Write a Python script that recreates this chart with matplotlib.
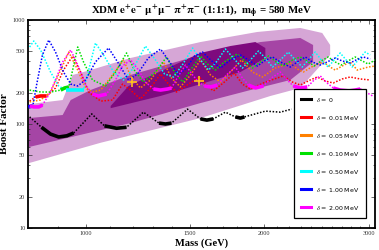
"""
XDM boost factor vs mass, e+e- mu+mu- pi+pi- (1:1:1), m_phi = 580 MeV.
Shaded regions: allowed boost factors; curves: Sommerfeld enhancement for several delta.
"""
import matplotlib
matplotlib.use("Agg")
import matplotlib.pyplot as plt
import numpy as np
from matplotlib.ticker import FixedLocator, NullFormatter

OUT_PNG = "out.png"

# ---- allowed regions (outer / middle / inner), mass in GeV ----
light_up_m = [802, 915, 951, 1019, 1190, 1561, 1945, 2298, 2502, 2580]
light_up_bf = [155, 170, 296, 330, 431, 614, 767, 838, 750, 575]
light_lo_m = [802, 1060, 1561, 2047, 2298, 2580]
light_lo_bf = [42, 66, 114, 186, 222, 461]

mid_up_m = [802, 915, 944, 1019, 1190, 1561, 1969, 2298, 2415]
mid_up_bf = [114, 122, 170, 212, 296, 461, 614, 672, 575]
mid_lo_m = [802, 1190, 1561, 1894, 2211, 2415]
mid_lo_bf = [60, 102, 159, 212, 265, 395]

dark_up_m = [1102, 1181, 1561, 1753, 1931, 2007]
dark_up_bf = [149, 232, 482, 562, 614, 538]
dark_lo_m = [1102, 1337, 1561, 1822, 2007]
dark_lo_bf = [142, 186, 242, 316, 431]

# ---- Sommerfeld curves ----
black_m = [805, 843, 873, 901, 930, 955, 1024, 1076, 1127, 1172, 1251, 1329, 1363,
           1395, 1484, 1561, 1600, 1641, 1719, 1787, 1822, 1851, 2007, 2127, 2222]
black_bf = [117, 93, 80, 75, 77, 82, 125, 96, 91, 93, 130, 102, 100,
            102, 139, 112, 109, 112, 130, 117, 114, 117, 133, 130, 139]

red_m = [805, 824, 840, 860, 890, 918, 951, 981, 1012, 1060, 1110, 1154, 1190, 1237,
         1286, 1337, 1379, 1422, 1490, 1554, 1604, 1641, 1712, 1780, 1836, 1894,
         2007, 2152, 2230, 2298, 2388, 2454, 2531, 2611, 2703, 2788, 2899, 3013]
red_bf = [166, 182, 186, 186, 222, 330, 451, 316, 203, 166, 170, 242, 212, 174,
          222, 303, 242, 203, 242, 283, 232, 208, 253, 309, 242, 217,
          253, 290, 253, 237, 265, 283, 259, 248, 271, 283, 271, 265]

orange_m = [805, 840, 873, 908, 937, 970, 1000, 1027, 1060, 1110, 1158, 1195, 1237,
            1286, 1353, 1395, 1444, 1502, 1561, 1623, 1687, 1766, 1829, 1909, 1984,
            2086, 2211, 2271, 2325, 2416, 2512, 2580, 2631, 2703, 2788, 2866, 2990, 3072]
orange_bf = [163, 170, 203, 330, 492, 330, 222, 203, 212, 296, 413, 277, 222,
             265, 395, 277, 227, 296, 413, 296, 253, 330, 413, 316, 283,
             345, 386, 338, 316, 361, 395, 353, 330, 361, 395, 330, 353, 361]

green_m = [805, 840, 873, 908, 922, 937, 951, 970, 992, 1027, 1080, 1123, 1172, 1208,
           1251, 1311, 1369, 1411, 1458, 1502, 1561, 1604, 1654, 1712, 1800, 1858,
           1909, 1969, 2032, 2094, 2152, 2230, 2298, 2370, 2425, 2492, 2560, 2631,
           2692, 2766, 2843, 2921, 2990, 3072]
green_bf = [212, 203, 203, 212, 222, 227, 330, 550, 395, 265, 232, 316, 482, 330,
            253, 316, 441, 316, 253, 330, 451, 377, 330, 395, 471, 395,
            345, 395, 451, 395, 361, 413, 441, 395, 361, 404, 441, 395,
            369, 404, 441, 404, 377, 413]

cyan_m = [805, 818, 840, 873, 901, 926, 958, 992, 1012, 1039, 1072, 1115, 1158, 1204,
          1261, 1311, 1358, 1406, 1458, 1514, 1561, 1610, 1660, 1719, 1773, 1836,
          1894, 1954, 2007, 2063, 2127, 2193, 2254, 2316, 2370, 2435, 2492, 2560,
          2621, 2682, 2745, 2810, 2877, 2955, 3013]
cyan_bf = [550, 628, 515, 316, 232, 212, 212, 212, 330, 601, 461, 316, 265, 345,
           562, 413, 303, 283, 377, 538, 413, 330, 395, 526, 431, 345,
           413, 503, 431, 353, 413, 492, 413, 353, 413, 492, 413, 353,
           413, 482, 413, 353, 413, 492, 461]

blue_m = [801, 815, 827, 846, 867, 890, 918, 944, 970, 1000, 1039, 1093, 1132, 1181,
          1223, 1275, 1337, 1385, 1433, 1478, 1525, 1573, 1623, 1687, 1753, 1822,
          1880, 1946, 1999, 2063, 2127, 2211, 2271, 2343, 2407, 2483, 2550, 2631,
          2703, 2788, 2854, 2933, 3013]
blue_bf = [146, 149, 237, 461, 642, 492, 316, 242, 232, 265, 395, 538, 395, 265,
           303, 431, 526, 395, 296, 345, 451, 492, 413, 345, 413, 461,
           413, 361, 404, 441, 395, 353, 395, 441, 395, 369, 395, 431,
           404, 386, 413, 441, 422]

magenta_m = [805, 818, 834, 846, 867, 890, 915, 944, 970, 1000, 1027, 1051, 1085,
             1123, 1154, 1190, 1228, 1261, 1301, 1337, 1374, 1395, 1433, 1473, 1514,
             1549, 1585, 1623, 1667, 1726, 1787, 1836, 1880, 1931, 1992, 2055, 2127,
             2185, 2237, 2298, 2361, 2425, 2483, 2550, 2611, 2682, 2776, 2843, 2899,
             2944, 2979, 3042]
magenta_bf = [149, 146, 146, 152, 190, 265, 395, 515, 369, 237, 194, 186, 194,
              265, 361, 413, 330, 253, 217, 212, 217, 222, 290, 369, 296,
              253, 232, 227, 237, 296, 353, 277, 237, 222, 232, 277, 316,
              265, 232, 222, 227, 265, 290, 248, 222, 212, 208, 212, 217,
              212, 199, 186]

# solid (thick) pieces of each curve, as mass ranges
black_thick = [(843, 955), (1076, 1172), (1329, 1395), (1561, 1641), (1787, 1851)]
red_thick = [(824, 860)]
green_thick = [(908, 937)]
cyan_thick = [(926, 992)]
blue_thick = [(801, 815)]
magenta_thick = [(805, 846), (1027, 1085), (1301, 1395), (1585, 1667),
                 (1880, 1992), (2237, 2361), (2611, 2899)]
orange_thick = []

cross_m = [1195, 1549]
cross_bf = [253, 259]

labels = [r"$\delta$ = 0", r"$\delta$ = 0.01 MeV", r"$\delta$ = 0.05 MeV",
          r"$\delta$ = 0.10 MeV", r"$\delta$ = 0.50 MeV", r"$\delta$ = 1.00 MeV",
          r"$\delta$ = 2.00 MeV"]
colors = ["black", "#ff0000", "#ff8000", "#00e000", "#00ffff", "#0000ff", "#ff00ff"]

x_major = [1000, 1500, 2000, 3000]
x_minor = [900, 1100, 1200, 1300, 1400, 1600, 1700, 1800, 1900,
           2100, 2200, 2300, 2400, 2500, 2600, 2700, 2800, 2900]
y_major = [10, 20, 50, 100, 200, 500, 1000]
y_minor = [30, 40, 60, 70, 80, 90, 300, 400, 600, 700, 800, 900]


def region(ax, up_m, up_bf, lo_m, lo_bf, color):
    xs = list(up_m) + list(lo_m)[::-1]
    ys = list(up_bf) + list(lo_bf)[::-1]
    ax.fill(xs, ys, color=color, lw=0, zorder=1)


def curve(ax, m, bf, thick, color):
    m = np.asarray(m, float)
    bf = np.asarray(bf, float)
    ax.plot(m, bf, color=color, lw=1.1, ls=(0, (1, 1.1)), zorder=3)
    for a, b in thick:
        sel = (m >= a) & (m <= b)
        ax.plot(m[sel], bf[sel], color=color, lw=2.6, solid_capstyle="butt", zorder=4)


def main():
    plt.rcParams["font.family"] = ["Liberation Serif", "DejaVu Serif"]
    plt.rcParams["mathtext.fontset"] = "stix"

    fig = plt.figure(figsize=(3.79, 2.50), dpi=100)
    ax = fig.add_axes([0.0739, 0.088, 0.9156, 0.832])
    ax.set_xscale("log")
    ax.set_yscale("log")

    region(ax, light_up_m, light_up_bf, light_lo_m, light_lo_bf, "#d6a6d6")
    region(ax, mid_up_m, mid_up_bf, mid_lo_m, mid_lo_bf, "#a545a5")
    region(ax, dark_up_m, dark_up_bf, dark_lo_m, dark_lo_bf, "#7e0a7e")

    series = [
        (black_m, black_bf, black_thick),
        (red_m, red_bf, red_thick),
        (orange_m, orange_bf, orange_thick),
        (green_m, green_bf, green_thick),
        (cyan_m, cyan_bf, cyan_thick),
        (blue_m, blue_bf, blue_thick),
        (magenta_m, magenta_bf, magenta_thick),
    ]
    for (m, bf, thick), c in zip(series, colors):
        curve(ax, m, bf, thick, c)

    ax.plot(cross_m, cross_bf, ls="none", marker="+", ms=7, mew=1.2,
            color="#ffc020", zorder=5)

    handles = [plt.Line2D([], [], color=c, lw=2.2) for c in colors]
    leg = ax.legend(handles, labels, loc="lower right",
                    bbox_to_anchor=(0.983, 0.034), frameon=True, fancybox=False,
                    framealpha=1, edgecolor="black",
                    prop={"family": "DejaVu Sans", "size": 4.5},
                    labelspacing=1.6, handlelength=1.6, handletextpad=0.9,
                    borderpad=1.0)
    leg.get_frame().set_linewidth(0.9)
    leg.set_zorder(10)

    ax.set_xlim(800, 3070)
    ax.set_ylim(10, 1000)
    ax.xaxis.set_major_locator(FixedLocator(x_major))
    ax.xaxis.set_minor_locator(FixedLocator(x_minor))
    ax.yaxis.set_major_locator(FixedLocator(y_major))
    ax.yaxis.set_minor_locator(FixedLocator(y_minor))
    ax.set_xticklabels([str(v) for v in x_major])
    ax.set_yticklabels([str(v) for v in y_major])
    ax.xaxis.set_minor_formatter(NullFormatter())
    ax.yaxis.set_minor_formatter(NullFormatter())
    ax.tick_params(which="both", direction="in", top=True, right=True,
                   labelsize=4.5, pad=2, width=0.5, colors="#333333")
    ax.tick_params(which="major", length=3)
    ax.tick_params(which="minor", length=1.5)
    for s in ax.spines.values():
        s.set_linewidth(1.3)

    ax.set_title(r"XDM $\mathbf{e^{+}e^{-}}$ $\mathbf{\mu^{+}\mu^{-}}$ "
                 r"$\mathbf{\pi^{+}\pi^{-}}$ (1:1:1),  $\mathbf{m_{\phi}}$ = 580 MeV",
                 fontsize=7.8, fontweight="bold", pad=3)
    ax.set_xlabel("Mass (GeV)", fontsize=7.5, fontweight="bold", labelpad=2)
    ax.set_ylabel("Boost Factor", fontsize=8, fontweight="bold", labelpad=3)

    fig.savefig(OUT_PNG, dpi=100)
    plt.close(fig)


if __name__ == "__main__":
    main()
